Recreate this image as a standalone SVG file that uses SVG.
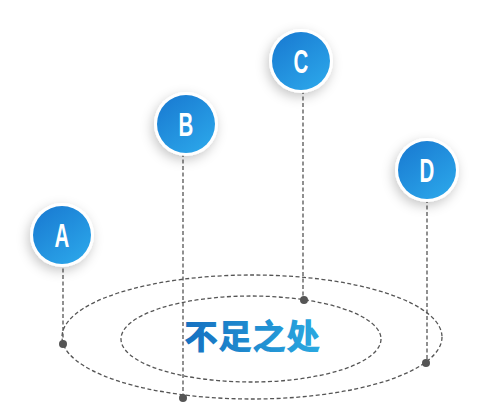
<svg xmlns="http://www.w3.org/2000/svg" width="500" height="404" viewBox="0 0 500 404">
<defs>
<linearGradient id="ball" x1="0.2" y1="0.1" x2="0.8" y2="0.9">
<stop offset="0" stop-color="#1b7fd4"/>
<stop offset="1" stop-color="#2aa3e8"/>
</linearGradient>
<linearGradient id="txt" x1="0" y1="0" x2="1" y2="0">
<stop offset="0" stop-color="#1670c0"/>
<stop offset="1" stop-color="#2aa8e0"/>
</linearGradient>
<filter id="sh" x="-60%" y="-60%" width="220%" height="220%">
<feDropShadow dx="-2" dy="4" stdDeviation="6" flood-color="#000" flood-opacity="0.22"/>
</filter>
<style>
.ring{fill:#fff;filter:url(#sh)}
.ball{fill:url(#ball)}
.lbl{font-family:"Liberation Sans",Arial,sans-serif;font-weight:bold;font-size:33px;fill:#fff;text-anchor:middle}
.dash{fill:none;stroke:#555;stroke-width:1.3;stroke-dasharray:4 2.5}
.dot{fill:#555}
</style>
</defs>
<rect width="500" height="404" fill="#fff"/>
<g id="connectors">
<ellipse class="dash" cx="252" cy="337" rx="190" ry="62"/>
<ellipse class="dash" cx="251" cy="339" rx="130" ry="43"/>
<line class="dash" x1="63" y1="262" x2="63" y2="344"/>
<line class="dash" x1="183" y1="153" x2="183" y2="398"/>
<line class="dash" x1="303" y1="90" x2="303" y2="300"/>
<line class="dash" x1="427" y1="199" x2="427" y2="363"/>
<circle class="dot" cx="63" cy="344" r="4"/>
<circle class="dot" cx="183" cy="398" r="4"/>
<circle class="dot" cx="304" cy="300" r="4"/>
<circle class="dot" cx="426" cy="363" r="4"/>
</g>
<g id="nodeA">
<circle class="ring" cx="62" cy="235" r="32"/>
<circle class="ball" cx="62" cy="235" r="29"/>
<text class="lbl" transform="translate(62 247) scale(0.62 1)">A</text>
</g>
<g id="nodeB">
<circle class="ring" cx="186" cy="124" r="32"/>
<circle class="ball" cx="186" cy="124" r="29"/>
<text class="lbl" transform="translate(186 136) scale(0.62 1)">B</text>
</g>
<g id="nodeC">
<circle class="ring" cx="301" cy="61" r="32"/>
<circle class="ball" cx="301" cy="61" r="29"/>
<text class="lbl" transform="translate(301 73) scale(0.62 1)">C</text>
</g>
<g id="nodeD">
<circle class="ring" cx="427" cy="170" r="32"/>
<circle class="ball" cx="427" cy="170" r="29"/>
<text class="lbl" transform="translate(427 182) scale(0.62 1)">D</text>
</g>
<g id="center">
<text x="252" y="349" font-family="Noto Sans CJK SC, sans-serif" font-weight="900" font-size="34" fill="url(#txt)" text-anchor="middle">不足之处</text>
</g>
</svg>
